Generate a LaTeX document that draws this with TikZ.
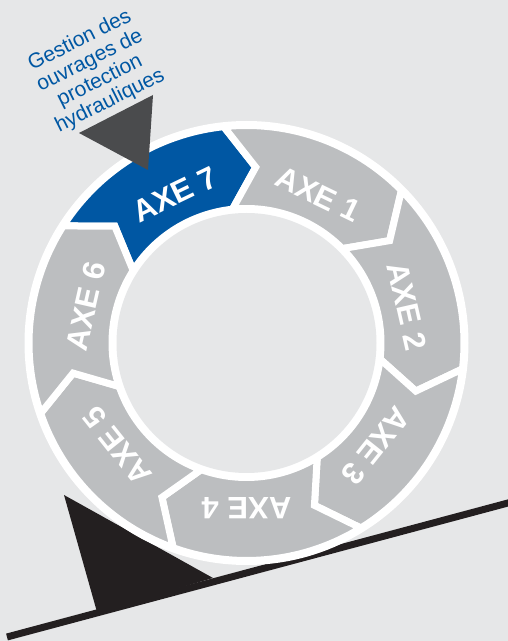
\documentclass[tikz,border=0pt]{standalone}
\usepackage{fontspec}
\setmainfont{Liberation Sans}
\usetikzlibrary{calc}
\definecolor{bgcol}{HTML}{E6E7E8}
\definecolor{axeblue}{HTML}{0057A3}
\definecolor{axegray}{HTML}{BCBEC0}
\definecolor{pointer}{HTML}{4A4B4D}
\definecolor{inkblack}{HTML}{231F20}
\tikzset{
  segshape/.style={draw=white, line width=7pt, line join=miter},
  axelabel/.style={text=white, inner sep=0pt, font=\bfseries\fontsize{31}{31}\selectfont},
  toplabel/.style={text=axeblue, align=center, inner sep=0pt, font=\fontsize{21}{22.5}\selectfont},
  groundline/.style={draw=inkblack, line width=7pt}
}
\begin{document}
\begin{tikzpicture}[x=1pt,y=1pt]
\useasboundingbox (0,0) rectangle (508,641);
\fill[bgcol] (0,0) rectangle (508,641);
\begin{scope}
  \clip (0,0) rectangle (508,641);
  \coordinate (g1) at (7,4);
  \coordinate (g2) at (530,143.9);
  \draw[groundline] (g1) -- (g2);
\end{scope}
% support wedge
\fill[inkblack] (64,146) -- (213,63) -- (97,29) -- cycle;
% ring
\begin{scope}[shift={(246.5,298)}]
  \coordinate (C) at (0,0);
  \fill[white] (C) circle[radius=222];
  \fill[bgcol] (C) circle[radius=130];
  \foreach \k in {0,...,6} {
    \pgfmathsetmacro\pl{87-\k*360/7}
    \pgfmathsetmacro\pt{\pl+360/7}
    \pgfmathsetmacro\plo{\pl+9}
    \pgfmathsetmacro\pto{\pt+9}
    \ifnum\k=0 \def\segcol{axeblue}\else\def\segcol{axegray}\fi
    \filldraw[segshape, fill=\segcol] (\pto:217.5) arc[start angle=\pto, end angle=\plo, radius=217.5]
      -- (\pl:176) -- (\plo:134.5) arc[start angle=\plo, end angle=\pto, radius=134.5]
      -- (\pt:176) -- cycle;
  }
  \foreach \k in {0,...,6} {
    \pgfmathsetmacro\ta{87-\k*360/7+360/14+3}
    \pgfmathsetmacro\tr{\ta-90}
    \ifnum\k=0 \def\lab{7}\else\def\lab{\k}\fi
    \node[axelabel, rotate=\tr] (axe\lab) at (\ta:165) {AXE \lab};
  }
\end{scope}
% pointer
\fill[pointer] (153,546) -- (79,508) -- (148,471) -- cycle;
\node[toplabel, rotate=26.6] (label) at (95,570) {Gestion des\\ouvrages de\\protection\\hydrauliques};
\end{tikzpicture}
\end{document}
